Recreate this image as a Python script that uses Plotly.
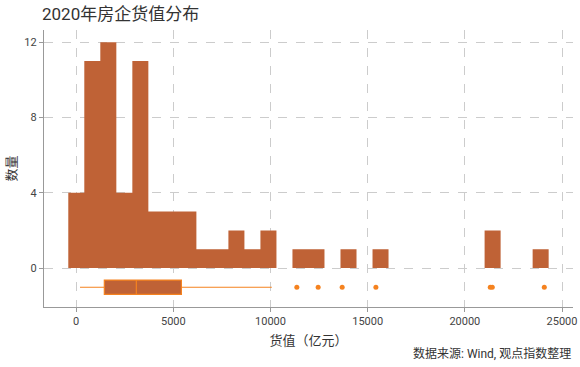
import plotly.graph_objects as go

# Histogram bins (value in 亿元)
bin_start = -407
bin_size = 824
bin_counts = [4, 11, 12, 4, 11, 3, 3, 3, 1, 1, 2, 1, 2, 0, 1, 1, 0, 1, 0, 1,
              0, 0, 0, 0, 0, 0, 2, 0, 0, 1]

# Box statistics
box_lowerfence = 196
box_q1 = 1447
box_median = 3095
box_q3 = 5412
box_upperfence = 10067
outliers = [11354, 12451, 13687, 15422, 21308, 21411, 24089]

title = "2020年房企货值分布"
x_title = "货值（亿元）"
y_title = "数量"
source = "数据来源: Wind, 观点指数整理"
x_ticks = [0, 5000, 10000, 15000, 20000, 25000]
y_ticks = [0, 4, 8, 12]

bar_color = "#BF6236"
orange = "#F5821F"
font_family = "Roboto, 'Noto Sans CJK SC', sans-serif"

W, H = 580, 367
L, R, T, B = 44, 7, 30, 60

# stepped histogram outline built from the bin edges and counts
edges = [bin_start + bin_size * k for k in range(len(bin_counts) + 1)]
step_y = bin_counts + [bin_counts[-1]]

fig = go.Figure()
fig.add_trace(go.Scatter(
    x=edges, y=step_y, mode="lines", line=dict(shape="hv", width=0, color=bar_color),
    fill="tozeroy", fillcolor=bar_color, showlegend=False, hoverinfo="x+y",
))
fig.add_trace(go.Box(
    y=[-1.02], q1=[box_q1], median=[box_median], q3=[box_q3],
    lowerfence=[box_lowerfence], upperfence=[box_upperfence],
    orientation="h", width=0.76, boxpoints=False,
    fillcolor=bar_color, line=dict(color=orange, width=1.2),
    whiskerwidth=0, showlegend=False,
))
fig.add_trace(go.Scatter(
    x=outliers, y=[-1.02] * len(outliers), mode="markers",
    marker=dict(color=orange, size=5), showlegend=False,
))

axis_common = dict(
    showline=True, linecolor="#999999", linewidth=1.2,
    ticks="outside", ticklen=4, tickcolor="#999999",
    showgrid=True, gridcolor="#CCCCCC", griddash="dash", gridwidth=1,
    zeroline=False, automargin=False,
    tickfont=dict(size=11, color="#444444", family=font_family),
)

plot_h = H - T - B
fig.update_layout(
    width=W, height=H,
    margin=dict(l=L, r=R, t=T, b=B, autoexpand=False),
    plot_bgcolor="white", paper_bgcolor="white",
    font=dict(family=font_family, color="#333333"),
    title=dict(text=title, x=42 / W, xanchor="left", y=1 - 14 / H, yanchor="middle",
               font=dict(size=17, color="#333333", family=font_family)),
    xaxis=dict(range=[-1657, 25566], tickvals=x_ticks, tickformat="d",
               title=dict(text=x_title, font=dict(size=13, color="#333333"), standoff=8),
               **axis_common),
    yaxis=dict(range=[-2.07, 12.65], tickvals=y_ticks,
               title=dict(text=y_title, font=dict(size=13, color="#333333"), standoff=4),
               **axis_common),
    annotations=[dict(text=source, xref="paper", yref="paper", x=1.0, xanchor="right",
                      y=-(354 - 307.3) / plot_h, yanchor="middle", showarrow=False,
                      font=dict(size=12, color="#333333"))],
)

fig.write_html("out.html", config={"displayModeBar": False},
               post_script="document.body.style.margin='0';document.body.style.overflow='hidden';")
